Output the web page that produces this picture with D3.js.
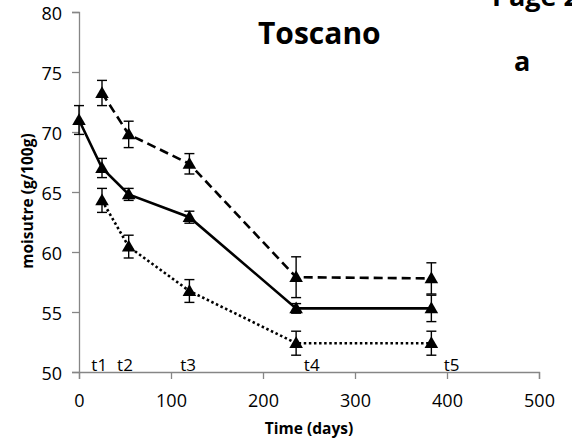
<!DOCTYPE html>
<html>
<head>
<meta charset="utf-8">
<script src="https://cdn.jsdelivr.net/npm/d3@7"></script>
<style>
  html, body { margin: 0; padding: 0; background: #fff; }
  svg { display: block; }
  text { font-family: "Open Sans", "Liberation Sans", sans-serif; }
</style>
</head>
<body>
<svg id="chart" width="572" height="444"></svg>
<script>
// ---- data ----
const xTicks = [0, 100, 200, 300, 400, 500];
const yTicks = [50, 55, 60, 65, 70, 75, 80];

const solidDays   = [0, 25, 54, 120, 236, 383];
const solidValues = [71.0, 67.0, 64.8, 62.9, 55.3, 55.3];
const solidErrors = [1.2, 0.8, 0.5, 0.5, 0.4, 1.1];

const dashedDays   = [25, 54, 120, 236, 383];
const dashedValues = [73.25, 69.8, 67.35, 57.9, 57.8];
const dashedErrors = [1.05, 1.1, 0.85, 1.7, 1.3];

const dottedDays   = [25, 54, 120, 236, 383];
const dottedValues = [64.3, 60.45, 56.75, 52.4, 52.4];
const dottedErrors = [1.0, 0.95, 0.95, 1.0, 1.0];

const timeLabels    = ["t1", "t2", "t3", "t4", "t5"];
const timeLabelDays = [22, 50, 118.5, 253, 405];

// ---- layout ----
const svg = d3.select("#chart");
const x = d3.scaleLinear().domain([0, 500]).range([79, 539]);
const y = d3.scaleLinear().domain([50, 80]).range([372, 12]);

const axisColor = "#868686";

// x axis
const gx = svg.append("g").attr("transform", `translate(0,${y(50)})`)
  .call(d3.axisBottom(x).tickValues(xTicks).tickSize(7).tickPadding(15).tickFormat(d3.format("d")));
// y axis
const gy = svg.append("g").attr("transform", `translate(${x(0)},0)`)
  .call(d3.axisLeft(y).tickValues(yTicks).tickSize(7).tickPadding(10).tickFormat(d3.format("d")));

[gx, gy].forEach(g => {
  g.select(".domain").attr("stroke", axisColor).attr("stroke-width", 1.3);
  g.selectAll(".tick line").attr("stroke", axisColor).attr("stroke-width", 1.3);
  g.selectAll(".tick text").attr("fill", "#000").style("font-size", "18px")
    .style("font-family", '"Open Sans", sans-serif');
});
gy.selectAll(".tick text").attr("dy", "0.42em");

// axis titles
svg.append("text").attr("x", 309).attr("y", 434)
  .attr("text-anchor", "middle").style("font-weight", "bold").style("font-size", "15.5px")
  .text("Time (days)");
svg.append("text").attr("transform", `translate(33,201) rotate(-90)`)
  .attr("text-anchor", "middle").style("font-weight", "bold").style("font-size", "15.5px")
  .text("moisutre (g/100g)");

// title & annotations
svg.append("text").attr("x", 258).attr("y", 44)
  .style("font-weight", "bold").style("font-size", "30px").text("Toscano");
svg.append("text").attr("x", 514).attr("y", 71)
  .style("font-weight", "bold").style("font-size", "27px").text("a");
svg.append("text").attr("x", 492).attr("y", 6)
  .style("font-weight", "bold").style("font-size", "27px").text("Page 2");

// time labels
svg.selectAll(".tlab").data(timeLabels).enter().append("text")
  .attr("class", "tlab")
  .attr("x", (d, i) => x(timeLabelDays[i]))
  .attr("y", y(50) - 1)
  .attr("text-anchor", "middle")
  .style("font-size", "17px")
  .text(d => d);

// series
const series = [
  { days: solidDays, values: solidValues, errors: solidErrors, dash: null },
  { days: dashedDays, values: dashedValues, errors: dashedErrors, dash: "9,5" },
  { days: dottedDays, values: dottedValues, errors: dottedErrors, dash: "2.5,2.6" }
];

const line = d3.line().x(d => x(d[0])).y(d => y(d[1]));
const tri = d3.symbol().type(d3.symbolTriangle).size(80);

series.forEach(s => {
  const pts = s.days.map((d, i) => [d, s.values[i], s.errors[i]]);
  svg.append("path").datum(pts)
    .attr("d", line)
    .attr("fill", "none")
    .attr("stroke", "#000")
    .attr("stroke-width", 2.6)
    .attr("stroke-dasharray", s.dash);

  const eb = svg.append("g");
  pts.forEach(p => {
    const cx = x(p[0]);
    const yt = y(p[1] + p[2]), yb = y(p[1] - p[2]);
    eb.append("line").attr("x1", cx).attr("x2", cx).attr("y1", yt).attr("y2", yb)
      .attr("stroke", "#000").attr("stroke-width", 1.4);
    [yt, yb].forEach(yy => eb.append("line")
      .attr("x1", cx - 5).attr("x2", cx + 5).attr("y1", yy).attr("y2", yy)
      .attr("stroke", "#000").attr("stroke-width", 1.4));
  });

  svg.append("g").selectAll("path").data(pts).enter().append("path")
    .attr("d", tri)
    .attr("transform", p => `translate(${x(p[0])},${y(p[1]) + 1})`)
    .attr("fill", "#000");
});
</script>
</body>
</html>
